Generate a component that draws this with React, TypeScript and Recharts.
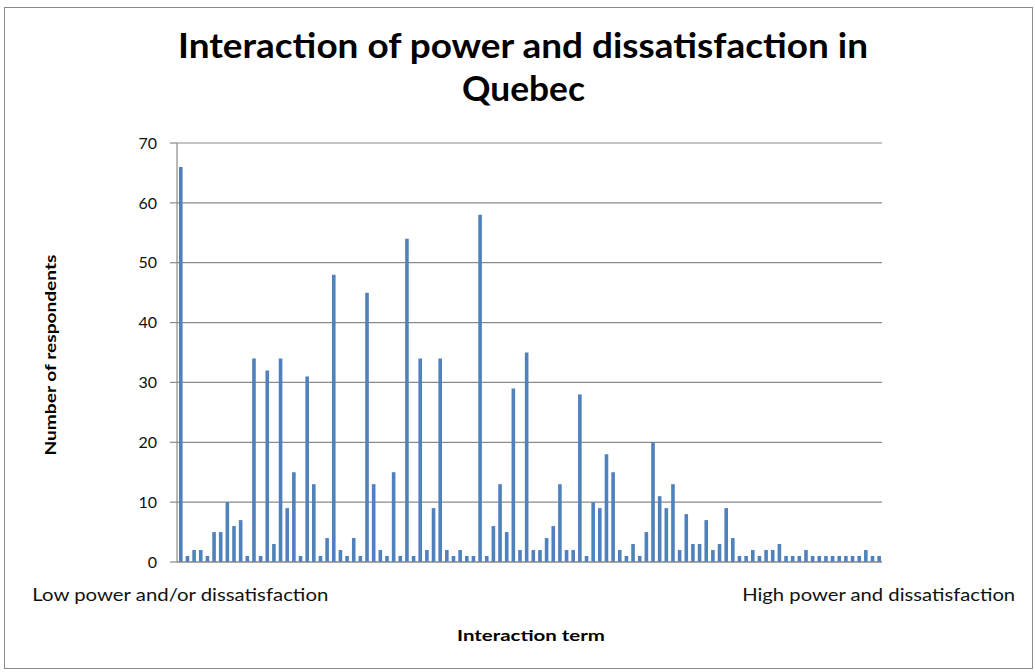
import { BarChart, Bar, XAxis, YAxis, CartesianGrid } from 'recharts';

// interaction term bins, low to high
const categories = [
  1, 2, 3, 4, 5, 6, 7, 8, 9, 10, 11, 12, 13, 14, 15, 16, 17, 18, 19, 20,
  21, 22, 23, 24, 25, 26, 27, 28, 29, 30, 31, 32, 33, 34, 35, 36, 37, 38, 39, 40,
  41, 42, 43, 44, 45, 46, 47, 48, 49, 50, 51, 52, 53, 54, 55, 56, 57, 58, 59, 60,
  61, 62, 63, 64, 65, 66, 67, 68, 69, 70, 71, 72, 73, 74, 75, 76, 77, 78, 79, 80,
  81, 82, 83, 84, 85, 86, 87, 88, 89, 90, 91, 92, 93, 94, 95, 96, 97, 98, 99, 100,
  101, 102, 103, 104, 105, 106,
];

const respondents = [
  66, 1, 2, 2, 1, 5, 5, 10, 6, 7, 1, 34, 1, 32, 3,
  34, 9, 15, 1, 31, 13, 1, 4, 48, 2, 1, 4, 1, 45, 13,
  2, 1, 15, 1, 54, 1, 34, 2, 9, 34, 2, 1, 2, 1, 1,
  58, 1, 6, 13, 5, 29, 2, 35, 2, 2, 4, 6, 13, 2, 2,
  28, 1, 10, 9, 18, 15, 2, 1, 3, 1, 5, 20, 11, 9, 13,
  2, 8, 3, 3, 7, 2, 3, 9, 4, 1, 1, 2, 1, 2, 2,
  3, 1, 1, 1, 2, 1, 1, 1, 1, 1, 1, 1, 1, 2, 1, 1,
];

const xTickLabels = ['Low power and/or dissatisfaction', 'High power and dissatisfaction'];
const xTickWidths = [296, 273];
const yTicks = [0, 10, 20, 30, 40, 50, 60, 70];

const data = categories.map((c, i) => ({ cat: c, value: respondents[i] }));

const FONT = 'Lato, "Open Sans", sans-serif';
const GRID = '#8a8a8a';

function EdgeTick(props: any) {
  const { x, y, payload } = props;
  let idx = -1;
  if (payload.value === categories[0]) idx = 0;
  if (payload.value === categories[categories.length - 1]) idx = 1;
  if (idx < 0) return <g />;
  return (
    <text
      x={x}
      y={y + 39}
      textAnchor="middle"
      fontFamily={FONT}
      fontSize={18}
      fill="#111"
      textLength={xTickWidths[idx]}
      lengthAdjust="spacingAndGlyphs"
    >
      {xTickLabels[idx]}
    </text>
  );
}

export default function App() {
  return (
    <div style={{ position: 'absolute', left: 0, top: 0, width: 1035, height: 672, background: '#fff' }}>
      <div
        style={{
          position: 'absolute',
          left: 4,
          top: 7,
          width: 1027,
          height: 660,
          border: '1px solid #8a8a8a',
        }}
      />
      <div style={{ position: 'absolute', left: 0, top: 0 }}>
        <BarChart
          width={1035}
          height={672}
          data={data}
          margin={{ top: 143, right: 153, bottom: 70, left: 117 }}
          barSize={3.6}
        >
          <CartesianGrid vertical={false} stroke={GRID} strokeWidth={1.2} />
          <XAxis
            dataKey="cat"
            type="category"
            interval={0}
            height={40}
            tickLine={false}
            tickSize={0}
            tickMargin={0}
            axisLine={{ stroke: GRID, strokeWidth: 1.2 }}
            tick={<EdgeTick />}
          />
          <YAxis
            width={60}
            domain={[0, 70]}
            ticks={yTicks}
            interval={0}
            tickSize={7}
            tickMargin={13}
            tickLine={{ stroke: GRID, strokeWidth: 1.2 }}
            axisLine={{ stroke: GRID, strokeWidth: 1.2 }}
            tick={{ fontFamily: FONT, fontSize: 16, fill: '#111' }}
          />
          <Bar dataKey="value" fill="#4F81BD" isAnimationActive={false} />
        </BarChart>
      </div>
      <svg
        width={1035}
        height={672}
        style={{ position: 'absolute', left: 0, top: 0, pointerEvents: 'none' }}
      >
        <g fontFamily={FONT} fontWeight="bold" fill="#000">
          <text x={523} y={58} textAnchor="middle" fontSize={35} textLength={690} lengthAdjust="spacingAndGlyphs">
            Interaction of power and dissatisfaction in
          </text>
          <text x={523.5} y={101} textAnchor="middle" fontSize={35} textLength={123} lengthAdjust="spacingAndGlyphs">
            Quebec
          </text>
          <text
            transform="translate(55.5,355) rotate(-90)"
            textAnchor="middle"
            fontSize={16}
            textLength={201}
            lengthAdjust="spacingAndGlyphs"
          >
            Number of respondents
          </text>
          <text x={531} y={641} textAnchor="middle" fontSize={16} textLength={148} lengthAdjust="spacingAndGlyphs">
            Interaction term
          </text>
        </g>
      </svg>
    </div>
  );
}
